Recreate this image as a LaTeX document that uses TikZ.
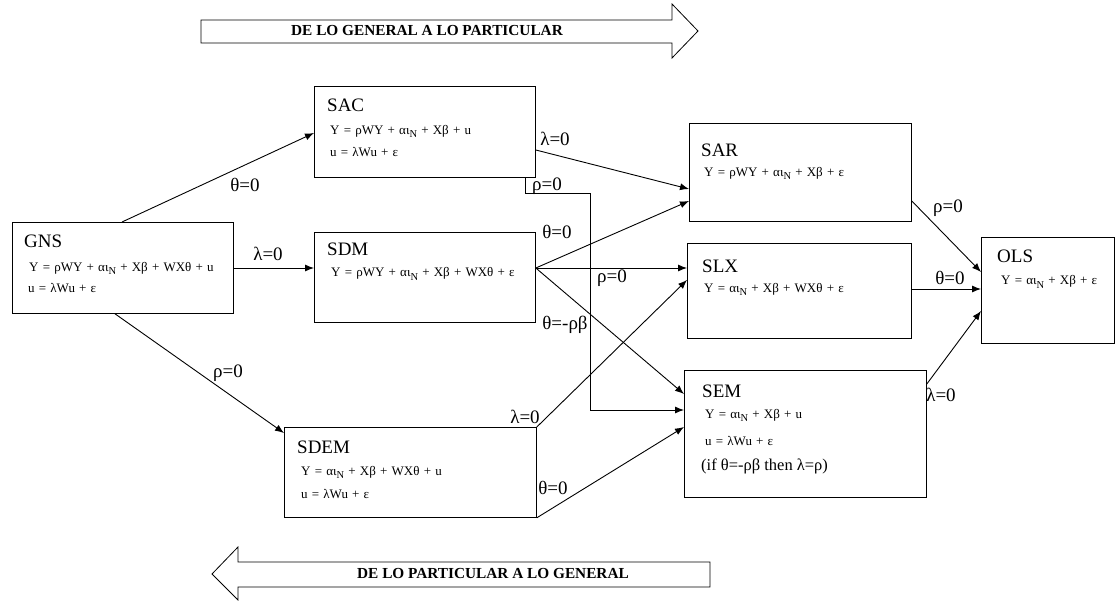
\documentclass[tikz,border=0pt]{standalone}
\usepackage{fontspec}
\setmainfont{Liberation Serif}
\usetikzlibrary{calc,arrows.meta}

% font of the equations, a little spaced out
\newcommand{\eqfont}{\fontsize{13}{15}\selectfont\spaceskip 4.2pt\relax}
% lowered index N of the equations
\newcommand{\subN}{\raisebox{-3pt}{\fontsize{10.5}{10.5}\selectfont N}}

\begin{document}
\begin{tikzpicture}[x=1pt, y=-1pt,
    box/.style={draw, line width=0.8pt, anchor=north west, inner sep=0pt},
    ttl/.style={anchor=base west, inner sep=0pt, font=\fontsize{19}{21}\selectfont},
    eqn/.style={anchor=base west, inner sep=0pt, font=\eqfont},
    lbl/.style={inner sep=0pt, font=\fontsize{19}{21}\selectfont},
    arr/.style={-{Latex[length=9pt,width=7pt]}, line width=0.9pt},
    bigarrow/.style={draw, line width=0.8pt},
    banner/.style={inner sep=0pt, font=\bfseries\fontsize{15.3}{17}\selectfont}]
    \useasboundingbox (0,0) rectangle (1115,601);

    % the eight model boxes: name/left/top/width/height
    \foreach \nm/\x/\y/\w/\h in {gns/12/222/221/91, sac/314/86/221/91,
        sdm/314/232/221/90, sdem/284/427/252/90, sar/689/123/222/98,
        slx/687/243/224/95, sem/684/370/242/127, ols/981/237/133/106} {
        \node[box, minimum width=\w pt, minimum height=\h pt] (\nm) at (\x,\y) {};
    }

    % titles and equations inside the boxes
    \node[ttl] (gnsT) at (24,248) {GNS};
    \node[eqn] (gnsE1) at (29,272) {Y = ρWY + αι\subN{} + Xβ + WXθ + u};
    \node[eqn] (gnsE2) at (28,293) {u = λWu + ε};

    \node[ttl] (sacT) at (327,112) {SAC};
    \node[eqn] (sacE1) at (330,135) {Y = ρWY + αι\subN{} + Xβ + u};
    \node[eqn] (sacE2) at (330,157) {u = λWu + ε};

    \node[ttl] (sdmT) at (327,256) {SDM};
    \node[eqn] (sdmE1) at (331,277) {Y = ρWY + αι\subN{} + Xβ + WXθ + ε};

    \node[ttl] (sdemT) at (297,453) {SDEM};
    \node[eqn] (sdemE1) at (301,475) {Y = αι\subN{} + Xβ + WXθ + u};
    \node[eqn] (sdemE2) at (301,498) {u = λWu + ε};

    \node[ttl] (sarT) at (701,157) {SAR};
    \node[eqn] (sarE1) at (704,177) {Y = ρWY + αι\subN{} + Xβ + ε};

    \node[ttl] (slxT) at (702,273) {SLX};
    \node[eqn] (slxE1) at (704,292) {Y = αι\subN{} + Xβ + WXθ + ε};

    \node[ttl] (semT) at (702,397) {SEM};
    \node[eqn] (semE1) at (705,418) {Y = αι\subN{} + Xβ + u};
    \node[eqn] (semE2) at (705,445) {u = λWu + ε};
    \node[ttl, font=\fontsize{16.5}{18}\selectfont] (semE3) at (701,470) {(if θ=-ρβ then λ=ρ)};

    \node[ttl] (olsT) at (997,263) {OLS};
    \node[eqn] (olsE1) at (1001,285) {Y = αι\subN{} + Xβ + ε};

    % restrictions leading out of GNS
    \draw[arr] ($(gns.north west)+(110,0)$) -- ($(sac.north west)+(0,47)$);
    \draw[arr] ($(gns.north east)+(0,46)$) -- ($(sdm.north west)+(0,36)$);
    \draw[arr] ($(gns.south west)+(103,0)$) -- ($(sdem.north west)+(0,6)$);
    \node[lbl] (l1) at (245,185) {θ=0};
    \node[lbl] (l2) at (268,254) {λ=0};
    \node[lbl] (l3) at (228,373) {ρ=0};

    % from SAC
    \draw[arr] ($(sac.north east)+(0,64)$) -- ($(sar.north west)+(0,66)$);
    \draw[arr] ($(sac.south east)+(-10,0)$) |- ($(sac.south east)+(55,16)$)
        |- ($(sem.north west)+(0,40)$);
    \node[lbl] (l4) at (555,139) {λ=0};
    \node[lbl] (l5) at (547,186) {ρ=0};

    % from SDM
    \draw[arr] ($(sdm.north east)+(0,36)$) -- ($(sar.north west)+(0,78)$);
    \draw[arr] ($(sdm.north east)+(0,36)$) -- ($(slx.north west)+(0,25)$);
    \draw[arr] ($(sdm.north east)+(0,36)$) -- ($(sem.north west)+(0,24)$);
    \node[lbl] (l6) at (557,232) {θ=0};
    \node[lbl] (l7) at (612,278) {ρ=0};
    \node[lbl] (l8) at (565,325) {θ=-ρβ};

    % from SDEM
    \draw[arr] (sdem.north east) -- ($(slx.north west)+(0,37)$);
    \draw[arr] (sdem.south east) -- ($(sem.north west)+(0,57)$);
    \node[lbl] (l9) at (525,417) {λ=0};
    \node[lbl] (l10) at (553,488) {θ=0};

    % into OLS
    \draw[arr] ($(sar.north east)+(0,78)$) -- ($(ols.north west)+(0,35)$);
    \draw[arr] ($(slx.north east)+(0,46)$) -- ($(ols.north west)+(0,52)$);
    \draw[arr] ($(sem.north east)+(0,14)$) -- ($(ols.north west)+(0,74)$);
    \node[lbl] (l11) at (948,208) {ρ=0};
    \node[lbl] (l12) at (950,278) {θ=0};
    \node[lbl] (l13) at (941,395) {λ=0};

    % the two direction banners
    \draw[bigarrow] (201,20) -- (672,20) -- (672,4) -- (698,31) -- (672,58)
        -- (672,43) -- (201,43) -- cycle;
    \node[banner] (top) at (427,31) {DE LO GENERAL A LO PARTICULAR};
    \draw[bigarrow] (710,562) -- (238,562) -- (238,547) -- (212,574) -- (238,600)
        -- (238,587) -- (710,587) -- cycle;
    \node[banner] (bottom) at (493,574) {DE LO PARTICULAR A LO GENERAL};
\end{tikzpicture}
\end{document}
